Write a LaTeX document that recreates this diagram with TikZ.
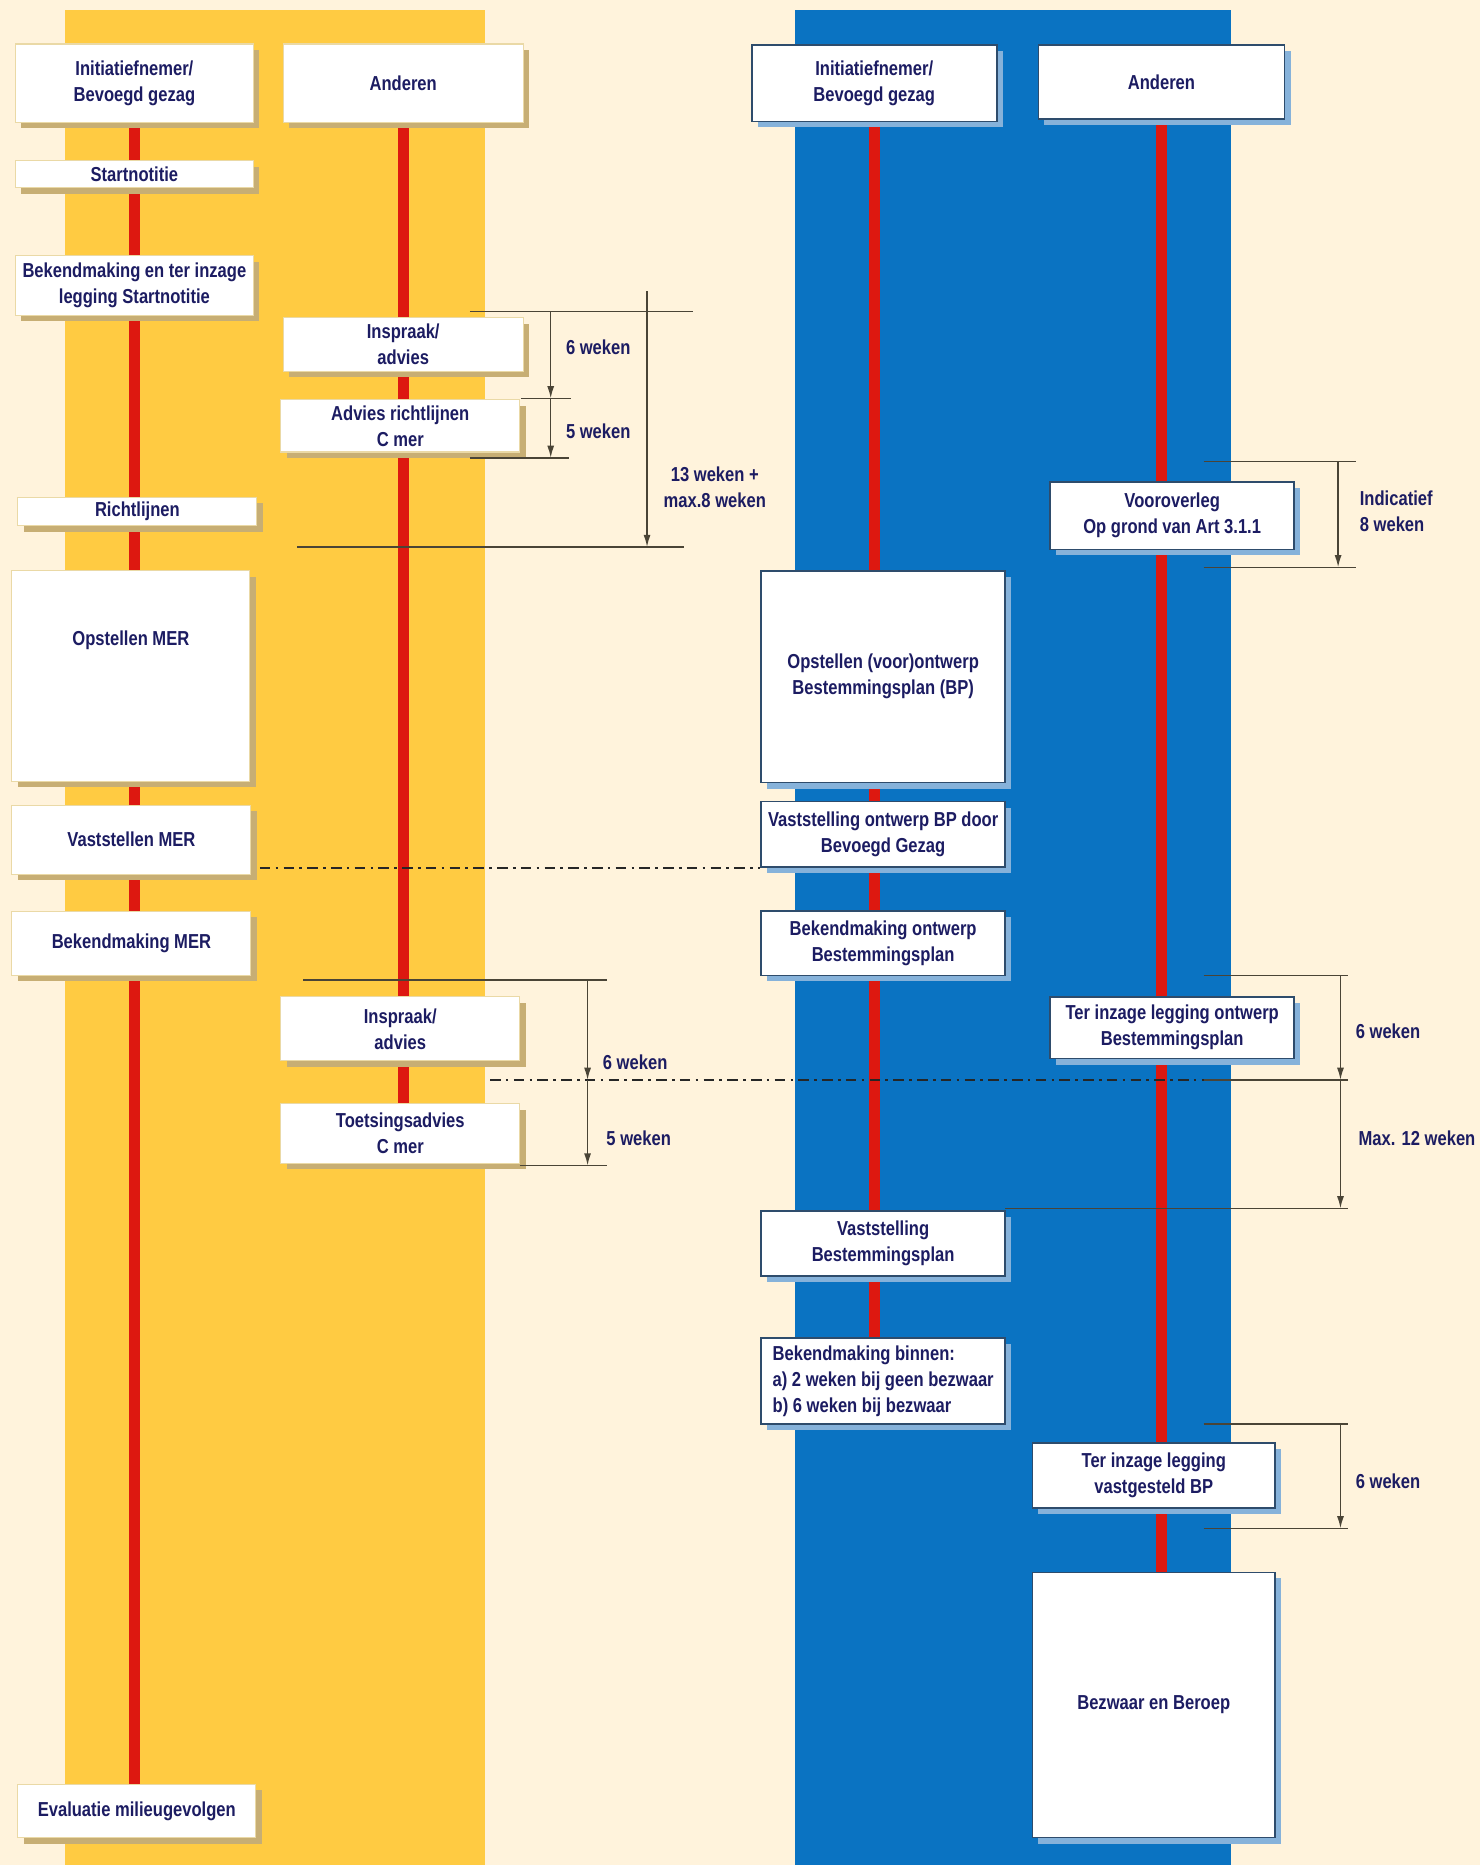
\documentclass[tikz,border=0pt]{standalone}
\usepackage{fontspec}
\newfontfamily\lanefont{Liberation Sans}[FakeStretch=0.82]
\usepackage{tikz}
\usetikzlibrary{arrows.meta,shadows,calc}

\definecolor{paper}{HTML}{FFF3DC}
\definecolor{laneyellow}{HTML}{FFCB42}
\definecolor{laneblue}{HTML}{0A73C2}
\definecolor{lanered}{HTML}{DD1810}
\definecolor{inktext}{HTML}{1C1C62}
\definecolor{dimline}{HTML}{4A4436}
\definecolor{yshade}{HTML}{C7AE74}
\definecolor{bshade}{HTML}{86B2DA}
\definecolor{bedge}{HTML}{2E4C6C}
\definecolor{yedge}{HTML}{EAD9A6}

\newlength\pxu
\setlength\pxu{0.023794cm}

\pgfdeclarelayer{bands}
\pgfdeclarelayer{lanes}
\pgfsetlayers{bands,lanes,main}

\begin{document}
\begin{tikzpicture}[
  x=\pxu,y=-\pxu,>={Latex[length=7pt,width=4pt]},
  boxtext/.style={text=inktext,align=center,
    font=\lanefont\bfseries\fontsize{11.5}{14.8}\selectfont},
  boxsize/.style 2 args={minimum width=#1*\pxu,minimum height=#2*\pxu},
  stagebox/.style={boxtext,rectangle,fill=white,inner sep=2pt},
  ystage/.style={stagebox,draw=yedge,line width=0.6pt,
    drop shadow={shadow xshift=3.4pt,shadow yshift=-3.4pt,fill=yshade,opacity=1}},
  bstage/.style={stagebox,draw=bedge,line width=0.9pt,
    drop shadow={shadow xshift=3.4pt,shadow yshift=-3.4pt,fill=bshade,opacity=1}},
  lane/.style={draw=lanered,line width=6.5pt},
  tick/.style={draw=dimline,line width=0.9pt},
  spanarrow/.style={tick,->},
  cutline/.style={draw=black!85,line width=0.9pt,
    dash pattern=on 6pt off 3pt on 1.5pt off 3pt},
  weeks/.style={boxtext,inner sep=0pt}
]
  \useasboundingbox (0,0) rectangle (1244,1568);
  \begin{pgfonlayer}{bands}
    \fill[paper] (0,0) rectangle (1244,1568);
    \fill[laneyellow] (55,8) rectangle (408,1568);
    \fill[laneblue] (668,8) rectangle (1035,1568);
  \end{pgfonlayer}

  % m.e.r.-procedure
  \node[ystage,boxsize={200}{66}] (lInit) at (113,70) {Initiatiefnemer/\\Bevoegd gezag};
  \node[ystage,boxsize={202}{66}] (lAnd) at (339,70) {Anderen};
  \node[ystage,boxsize={200}{23}] (lStart) at (113,146.5) {Startnotitie};
  \node[ystage,boxsize={200}{50}] (lBekStart) at (113,240) {Bekendmaking en ter inzage\\legging Startnotitie};
  \node[ystage,boxsize={202}{45}] (lInspr1) at (339,289.5) {Inspraak/\\advies};
  \node[ystage,boxsize={201}{44}] (lAdvRicht) at (336.5,358) {Advies richtlijnen\\C mer};
  \node[ystage,boxsize={201}{24}] (lRicht) at (115.5,430) {Richtlijnen};
  \node[ystage,boxsize={200}{177}] (lOpst) at (110,568.5) {};
  \node[weeks] (lOpstText) at (110,538) {Opstellen MER};
  \node[ystage,boxsize={201}{58}] (lVast) at (110.5,706) {Vaststellen MER};
  \node[ystage,boxsize={201}{54}] (lBekMER) at (110.5,793) {Bekendmaking MER};
  \node[ystage,boxsize={201}{54}] (lInspr2) at (336.5,865) {Inspraak/\\advies};
  \node[ystage,boxsize={201}{50}] (lToets) at (336.5,953) {Toetsingsadvies\\C mer};
  \node[ystage,boxsize={200}{45}] (lEval) at (115,1522.5) {Evaluatie milieugevolgen};

  % bestemmingsplanprocedure
  \node[bstage,boxsize={206}{64}] (bInit) at (735,70) {Initiatiefnemer/\\Bevoegd gezag};
  \node[bstage,boxsize={207}{62}] (bAnd) at (976.5,69) {Anderen};
  \node[bstage,boxsize={205}{57}] (bVoor) at (985.5,433.5) {Vooroverleg\\Op grond van Art 3.1.1};
  \node[bstage,boxsize={205}{178}] (bOpst) at (742.5,569) {Opstellen (voor)ontwerp\\Bestemmingsplan (BP)};
  \node[bstage,boxsize={205}{55}] (bVastOntw) at (742.5,701.5) {Vaststelling ontwerp BP door\\Bevoegd Gezag};
  \node[bstage,boxsize={205}{54}] (bBekOntw) at (742.5,793) {Bekendmaking ontwerp\\Bestemmingsplan};
  \node[bstage,boxsize={205}{52}] (bTerOntw) at (985.5,864) {Ter inzage legging ontwerp\\Bestemmingsplan};
  \node[bstage,boxsize={205}{55}] (bVastBP) at (742.5,1045.5) {Vaststelling\\Bestemmingsplan};
  \node[bstage,boxsize={205}{72},align=left] (bBekBinnen) at (742.5,1161)
    {Bekendmaking binnen:\\a) 2 weken bij geen bezwaar\\b) 6 weken bij bezwaar};
  \node[bstage,boxsize={204}{55}] (bTerVast) at (970,1240.5) {Ter inzage legging\\vastgesteld BP};
  \node[bstage,boxsize={204}{223}] (bBezwaar) at (970,1433.5) {Bezwaar en Beroep};

  \begin{pgfonlayer}{lanes}
    \draw[lane] (lInit.south) -- (lInit.south |- lEval.north);
    \draw[lane] (lAnd.south) -- (lAnd.south |- lToets.north);
    \draw[lane] (bInit.south) -- (bInit.south |- bBekBinnen.north);
    \draw[lane] (bAnd.south) -- (bAnd.south |- bBezwaar.north);
  \end{pgfonlayer}

  % termijnen startnotitie en richtlijnen
  \coordinate (r6top) at (395,262);
  \coordinate (r6end) at (583,262);
  \coordinate (r5top) at (438,335);
  \coordinate (r5end) at (480,335);
  \coordinate (r5low) at (395,385);
  \coordinate (r5lowend) at (478,385);
  \coordinate (r13low) at (250,460);
  \coordinate (r13lowend) at (575,460);
  \coordinate (r13top) at (544,245);
  \draw[tick] (r6top) -- (r6end);
  \draw[tick] (r5top) -- (r5end);
  \draw[tick] (r5low) -- (r5lowend);
  \draw[tick] (r13low) -- (r13lowend);
  \draw[spanarrow] (r6top -| 463,0) -- (r5top -| 463,0);
  \draw[spanarrow] (r5top -| 463,0) -- (r5low -| 463,0);
  \draw[spanarrow] (r13top) -- (r13top |- r13low);
  \node[weeks] (r6text) at (503,292) {6 weken};
  \node[weeks] (r5text) at (503,363) {5 weken};
  \node[weeks] (r13text) at (601,410) {13 weken +\\max.8 weken};

  % vooroverleg
  \coordinate (v8top) at (1012,388);
  \coordinate (v8topend) at (1140,388);
  \coordinate (v8low) at (1012,477);
  \coordinate (v8lowend) at (1140,477);
  \draw[tick] (v8top) -- (v8topend);
  \draw[tick] (v8low) -- (v8lowend);
  \draw[spanarrow] (v8top -| 1125,0) -- (v8low -| 1125,0);
  \node[weeks,anchor=west,align=left] (v8text) at (1143,430) {Indicatief\\8 weken};

  % gelijktijdige ter inzage legging
  \draw[cutline] ($(lVast.east |- bVastOntw.south)+(7,0)$) -- (bVastOntw.south west);
  \coordinate (m6top) at (255,824);
  \coordinate (m6topend) at (510,824);
  \coordinate (mcut) at (412,908);
  \coordinate (mcutend) at (1130,908);
  \coordinate (m5low) at (437,980);
  \coordinate (m5lowend) at (510,980);
  \draw[tick] (m6top) -- (m6topend);
  \draw[cutline] (mcut) -- (mcutend);
  \draw[tick] (m5low) -- (m5lowend);
  \draw[spanarrow] (m6top -| 494,0) -- (mcut -| 494,0);
  \draw[spanarrow] (mcut -| 494,0) -- (m5low -| 494,0);
  \node[weeks] (m6text) at (534,893) {6 weken};
  \node[weeks] (m5text) at (537,957) {5 weken};

  % ontwerp en vaststelling
  \coordinate (o6top) at (1012,820);
  \coordinate (o6topend) at (1133,820);
  \coordinate (o6low) at (1012,908);
  \coordinate (o6lowend) at (1133,908);
  \coordinate (o12low) at (845,1016);
  \coordinate (o12lowend) at (1133,1016);
  \draw[tick] (o6top) -- (o6topend);
  \draw[tick] (o6low) -- (o6lowend);
  \draw[tick] (o12low) -- (o12lowend);
  \draw[spanarrow] (o6top -| 1127,0) -- (o6low -| 1127,0);
  \draw[spanarrow] (o6low -| 1127,0) -- (o12low -| 1127,0);
  \node[weeks] (o6text) at (1167,867) {6 weken};
  \node[weeks,anchor=west] (o12text) at (1142,957) {Max. 12 weken};

  % ter inzage vastgesteld plan
  \coordinate (t6top) at (1012,1197);
  \coordinate (t6topend) at (1133,1197);
  \coordinate (t6low) at (1012,1285);
  \coordinate (t6lowend) at (1133,1285);
  \draw[tick] (t6top) -- (t6topend);
  \draw[tick] (t6low) -- (t6lowend);
  \draw[spanarrow] (t6top -| 1127,0) -- (t6low -| 1127,0);
  \node[weeks] (t6text) at (1167,1245) {6 weken};
\end{tikzpicture}
\end{document}
